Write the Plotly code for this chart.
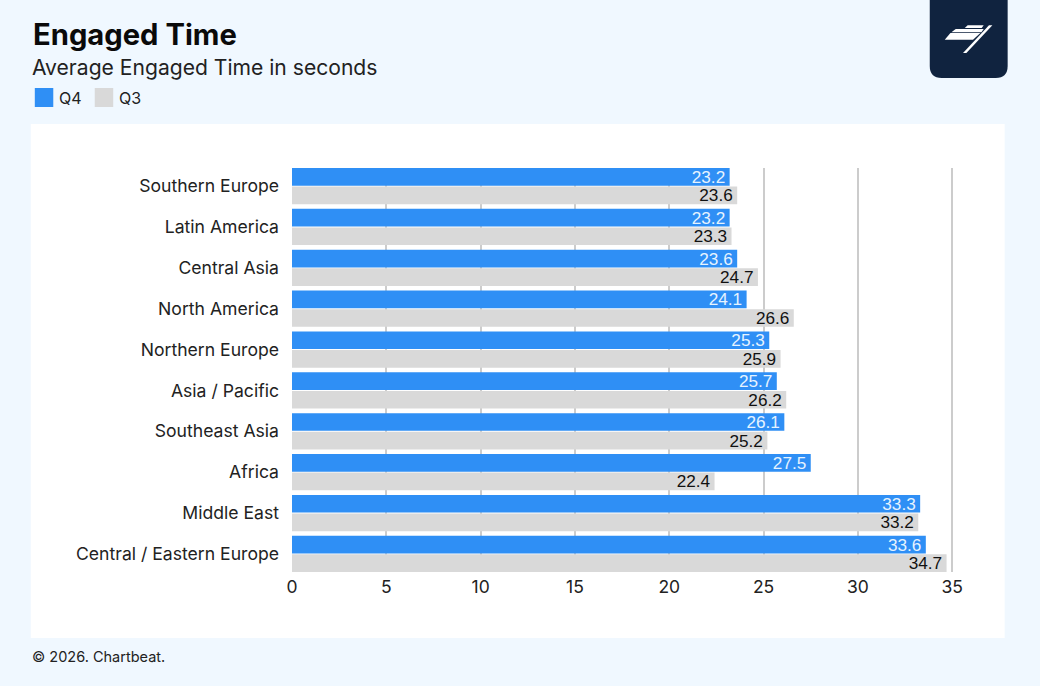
import plotly.graph_objects as go

categories = ["Southern Europe", "Latin America", "Central Asia", "North America", "Northern Europe",
              "Asia / Pacific", "Southeast Asia", "Africa", "Middle East", "Central / Eastern Europe"]
q4_values = [23.2, 23.2, 23.6, 24.1, 25.3, 25.7, 26.1, 27.5, 33.3, 33.6]
q3_values = [23.6, 23.3, 24.7, 26.6, 25.9, 26.2, 25.2, 22.4, 33.2, 34.7]
x_ticks = [0, 5, 10, 15, 20, 25, 30, 35]

W, H = 1040, 686
L, R, T, B = 291.5, 83.72, 168, 114
BG = "#f0f8ff"
BLUE = "#2f8ff5"
GREY = "#d9d9d9"
NAVY = "#10233f"
UI = "Inter"
LBL = "Liberation Sans"

fig = go.Figure()
fig.add_bar(name="Q4", y=categories, x=q4_values, orientation="h", marker=dict(color=BLUE, line_width=0),
            text=[f"{v:.1f}\u200a" for v in q4_values], textposition="inside", insidetextanchor="end",
            textangle=0, constraintext="none", insidetextfont=dict(family=LBL, size=17.2, color="#e6f3ff"))
fig.add_bar(name="Q3", y=categories, x=q3_values, orientation="h", marker=dict(color=GREY, line_width=0),
            text=[f"{v:.1f}\u200a" for v in q3_values], textposition="inside", insidetextanchor="end",
            textangle=0, constraintext="none", insidetextfont=dict(family=LBL, size=17.2, color="#111111"))

def px(x): return (x - L) / (W - L - R)
def py(y): return 1 - (y - T) / (H - T - B)

def rect(x0, y0, x1, y1, color, layer="below"):
    return dict(type="rect", xref="paper", yref="paper", x0=px(x0), x1=px(x1), y0=py(y0), y1=py(y1),
                fillcolor=color, line_width=0, layer=layer)

def poly(points, color, layer="above"):
    d = "M " + " L ".join(f"{px(x):.5f},{py(y):.5f}" for x, y in points) + " Z"
    return dict(type="path", xref="paper", yref="paper", path=d, fillcolor=color, line_width=0, layer=layer)

def text(x, y, s, size, family=UI, color="#111111", weight=None, anchor="left"):
    t = f"<b>{s}</b>" if weight else s
    return dict(xref="paper", yref="paper", x=px(x), y=py(y), text=t, showarrow=False, xanchor=anchor,
                yanchor="middle", font=dict(family=family, size=size, color=color), align=anchor,
                borderpad=0, borderwidth=0)

logo_bg = (f"M {px(930):.5f},{py(0):.5f} L {px(1008):.5f},{py(0):.5f} L {px(1008):.5f},{py(66):.5f} "
           f"Q {px(1008):.5f},{py(78):.5f} {px(996):.5f},{py(78):.5f} L {px(942):.5f},{py(78):.5f} "
           f"Q {px(930):.5f},{py(78):.5f} {px(930):.5f},{py(66):.5f} Z")

shapes = [
    rect(30, 124, 1005, 638, "#ffffff"),
    rect(34, 88, 52.5, 107, BLUE),
    rect(94, 88, 112.5, 107, GREY),
    dict(type="path", xref="paper", yref="paper", path=logo_bg, fillcolor=NAVY, line_width=0, layer="above"),
    poly([(968, 25.3), (984, 25.3), (982, 28), (965, 28)], "#ffffff"),
    poly([(956, 29), (984, 29), (981.7, 32.3), (951.7, 32.3)], "#ffffff"),
    poly([(950.7, 33), (980.7, 33), (973.3, 39.7), (945, 39.7)], "#ffffff"),
    poly([(989.3, 25.3), (992.7, 25.3), (966.7, 53), (963.3, 53)], "#ffffff"),
]
annotations = [
    text(32.2, 35, "Engaged Time", 29.2, weight=True, color="#0a0a0a"),
    text(31.5, 67, "Average Engaged Time in seconds", 21.1, color="#222222"),
    text(58, 98, "Q4", 16, color="#222222"),
    text(118, 98, "Q3", 16, color="#222222"),
    text(31.5, 656, "© 2026. Chartbeat.", 14.5, color="#222222"),
]

fig.update_layout(
    width=W, height=H, autosize=False, showlegend=False,
    paper_bgcolor=BG, plot_bgcolor="rgba(0,0,0,0)",
    margin=dict(l=L, r=R, t=T, b=B, pad=0),
    barmode="group", bargap=0.09, bargroupgap=0.05,
    shapes=shapes, annotations=annotations,
    font=dict(family=UI, color="#222222"),
    xaxis=dict(range=[0, 35.2], tickvals=x_ticks, showgrid=True, gridcolor="#cccccc", gridwidth=1.5,
               zeroline=False, showline=False, ticks="", ticklabelstandoff=2,
               tickfont=dict(family=UI, size=17.5, color="#222222")),
    yaxis=dict(categoryorder="array", categoryarray=categories, range=[9.444, -0.444], showgrid=False,
               zeroline=False, showline=False, ticks="", ticklabelstandoff=12,
               tickfont=dict(family=UI, size=17.6, color="#222222")),
)
fig.write_html("out.html", config=dict(displayModeBar=False),
               post_script="document.body.style.margin='0';document.documentElement.style.background='#f0f8ff';")
